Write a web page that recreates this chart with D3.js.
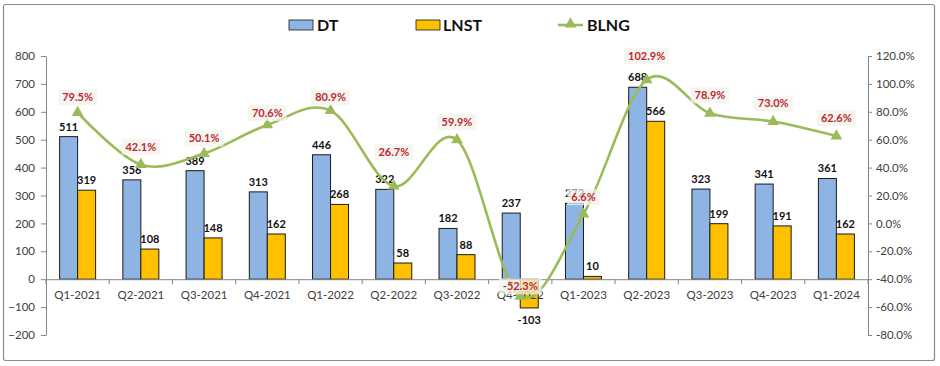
<!DOCTYPE html>
<html>
<head>
<meta charset="utf-8">
<script src="https://cdn.jsdelivr.net/npm/d3@7/dist/d3.min.js"></script>
<style>
  html, body { margin: 0; padding: 0; background: #fff; }
  svg { display: block; font-family: Lato, "Open Sans", sans-serif; }
</style>
</head>
<body>
<svg id="chart" width="940" height="366"></svg>
<script>
const categories = ["Q1-2021","Q2-2021","Q3-2021","Q4-2021","Q1-2022","Q2-2022","Q3-2022","Q4-2022","Q1-2023","Q2-2023","Q3-2023","Q4-2023","Q1-2024"];
const dt   = [511, 356, 389, 313, 446, 322, 182, 237, 272, 688, 323, 341, 361];
const lnst = [319, 108, 148, 162, 268, 58, 88, -103, 10, 566, 199, 191, 162];
const blng = [79.5, 42.1, 50.1, 70.6, 80.9, 26.7, 59.9, -52.3, 6.6, 102.9, 78.9, 73.0, 62.6];
const leftTicks = [-200, -100, 0, 100, 200, 300, 400, 500, 600, 700, 800];
const rightTicks = [-80, -60, -40, -20, 0, 20, 40, 60, 80, 100, 120];
const seriesNames = ["DT", "LNST", "BLNG"];

// layout: vertical lift (px) of each BLNG data label above its marker
const labelLift = [15, 18, 15, 12, 13, 34, 18, 10, 17, 24, 18, 18, 18];

const colors = { DT: "#8DB4E2", LNST: "#FFC000", BLNG: "#9BBB59" };
const svg = d3.select("#chart");

// border
svg.append("rect").attr("x", 3.5).attr("y", 4.5).attr("width", 931).attr("height", 356)
  .attr("rx", 2).attr("fill", "#fff").attr("stroke", "#8c8c8c").attr("stroke-width", 1.2);

const L = 46, R = 868, T = 56, B = 335;
const x = d3.scaleBand().domain(categories).range([L, R]).padding(0);
const bw = x.bandwidth();
const x1 = d3.scaleBand().domain(["DT", "LNST"]).range([bw / 2 - 18, bw / 2 + 18]).padding(0);
const yL = d3.scaleLinear().domain([-200, 800]).range([B, T]);
const yR = d3.scaleLinear().domain([-80, 120]).range([B, T]);

const axisColor = "#868686", textColor = "#404040";

// left axis
const gL = svg.append("g").attr("transform", `translate(${L},0)`)
  .call(d3.axisLeft(yL).tickValues(leftTicks).tickSize(5).tickPadding(6).tickSizeOuter(0));
gL.selectAll("path, line").attr("stroke", axisColor);
gL.selectAll("text").attr("fill", textColor).style("font-size", "11.5px").style("font-family", "Lato, sans-serif");

// right axis
const gR = svg.append("g").attr("transform", `translate(${R},0)`)
  .call(d3.axisRight(yR).tickValues(rightTicks).tickSize(4).tickPadding(4).tickSizeOuter(0)
    .tickFormat(d => d.toFixed(1) + "%"));
gR.selectAll("path, line").attr("stroke", axisColor);
gR.selectAll("text").attr("fill", textColor).style("font-size", "11.5px").style("font-family", "Lato, sans-serif");

// bars
const groups = svg.append("g").selectAll("g").data(categories).join("g")
  .attr("transform", d => `translate(${x(d)},0)`);
const barData = (i) => [{ k: "DT", v: dt[i] }, { k: "LNST", v: lnst[i] }];
groups.each(function (c, i) {
  const g = d3.select(this);
  g.selectAll("rect").data(barData(i)).join("rect")
    .attr("x", d => x1(d.k))
    .attr("width", x1.bandwidth())
    .attr("y", d => yL(Math.max(0, d.v)))
    .attr("height", d => Math.abs(yL(d.v) - yL(0)))
    .attr("fill", d => colors[d.k])
    .attr("stroke", "#1a1a1a").attr("stroke-width", 1);
});

// x axis (zero line) with boundary ticks
const y0 = yL(0);
const gX = svg.append("g").attr("transform", `translate(0,${y0})`)
  .call(d3.axisBottom(x).tickSize(0).tickPadding(12).tickSizeOuter(0));
gX.select("path").attr("stroke", axisColor);
gX.selectAll("text").attr("fill", textColor).style("font-size", "11.5px").style("font-family", "Lato, sans-serif");
svg.append("g").selectAll("line").data(d3.range(categories.length + 1)).join("line")
  .attr("x1", i => L + i * bw).attr("x2", i => L + i * bw)
  .attr("y1", y0).attr("y2", y0 + 5).attr("stroke", axisColor);

// bar labels
groups.each(function (c, i) {
  const g = d3.select(this);
  g.selectAll("text.bl").data(barData(i)).join("text").attr("class", "bl")
    .attr("x", d => x1(d.k) + x1.bandwidth() / 2)
    .attr("y", d => d.v >= 0 ? yL(d.v) - 6 : yL(d.v) + 16)
    .attr("text-anchor", "middle")
    .attr("fill", "#111")
    .style("font-size", "11px").style("font-weight", "bold")
    .text(d => d.v);
});

// line
const pts = categories.map((c, i) => [x(c) + bw / 2, yR(blng[i])]);
svg.append("path").datum(pts)
  .attr("d", d3.line().curve(d3.curveCardinal.tension(0)))
  .attr("fill", "none").attr("stroke", colors.BLNG).attr("stroke-width", 2.6);
const tri = d3.symbol().type(d3.symbolTriangle).size(60);
svg.append("g").selectAll("path").data(pts).join("path")
  .attr("transform", d => `translate(${d[0]},${d[1]})`)
  .attr("d", tri).attr("fill", colors.BLNG);

// BLNG labels
const lg = svg.append("g").selectAll("g").data(pts).join("g")
  .attr("transform", (d, i) => `translate(${d[0]},${d[1] - labelLift[i]})`);
lg.append("rect").attr("x", -19).attr("y", -8).attr("width", 38).attr("height", 16)
  .attr("fill", "#f2f2ec").attr("opacity", 0.75);
lg.append("text").attr("text-anchor", "middle").attr("dy", "0.35em")
  .attr("fill", "#C0282D").style("font-size", "11px").style("font-weight", "bold")
  .text((d, i) => blng[i].toFixed(1) + "%");
lg.select("rect").attr("width", function () {
  const w = this.parentNode.querySelector("text").getComputedTextLength() + 8;
  d3.select(this).attr("x", -w / 2);
  return w;
});

// legend
const leg = svg.append("g");
leg.append("rect").attr("x", 289).attr("y", 20).attr("width", 24).attr("height", 10)
  .attr("fill", colors.DT).attr("stroke", "#1a1a1a").attr("stroke-width", 0.8);
leg.append("text").attr("x", 317).attr("y", 30.5).text(seriesNames[0]);
leg.append("rect").attr("x", 416).attr("y", 20).attr("width", 24).attr("height", 10)
  .attr("fill", colors.LNST).attr("stroke", "#1a1a1a").attr("stroke-width", 0.8);
leg.append("text").attr("x", 443).attr("y", 30.5).text(seriesNames[1]);
leg.append("line").attr("x1", 558).attr("x2", 583).attr("y1", 25).attr("y2", 25)
  .attr("stroke", colors.BLNG).attr("stroke-width", 2.6);
leg.append("path").attr("transform", "translate(570.5,24)").attr("d", tri).attr("fill", colors.BLNG);
leg.append("text").attr("x", 587).attr("y", 30.5).text(seriesNames[2]);
leg.selectAll("text").attr("fill", "#111").style("font-size", "16px").style("font-weight", "bold");
</script>
</body>
</html>
